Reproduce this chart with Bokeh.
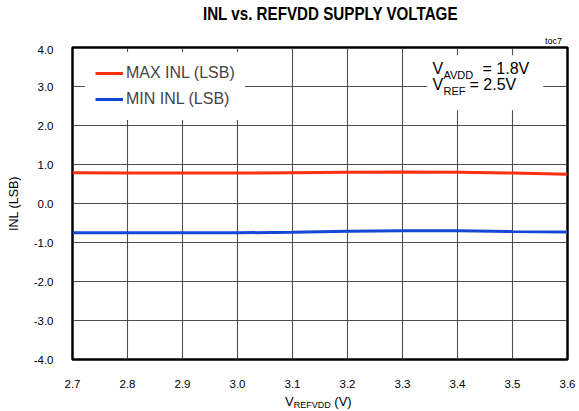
from bokeh.plotting import figure
from bokeh.layouts import column
from bokeh.models import (Label, BoxAnnotation, Legend, LegendItem, FixedTicker,
                          Range1d, PrintfTickFormatter, Div)
from bokeh.embed import file_html
from bokeh.resources import INLINE

# ---- data ----
voltage = [2.7, 2.8, 2.9, 3.0, 3.1, 3.2, 3.3, 3.4, 3.5, 3.6]
max_inl = [0.79, 0.78, 0.78, 0.78, 0.79, 0.80, 0.81, 0.80, 0.78, 0.75]
min_inl = [-0.75, -0.75, -0.75, -0.75, -0.74, -0.71, -0.70, -0.70, -0.72, -0.73]
x_ticks = [2.7, 2.8, 2.9, 3.0, 3.1, 3.2, 3.3, 3.4, 3.5, 3.6]
y_ticks = [-4, -3, -2, -1, 0, 1, 2, 3, 4]
series_names = ["MAX INL (LSB)", "MIN INL (LSB)"]
title_text = "INL vs. REFVDD SUPPLY VOLTAGE"
tag_text = "toc7"

FONT = "Liberation Sans"

# ---- title row (HTML) ----
title_div = Div(width=579, height=45, margin=0, text=(
    '<div style="position:relative;width:579px;height:45px;margin:0;padding:0;">'
    '<div style="position:absolute;left:0;top:3px;width:660px;text-align:center;'
    'line-height:22px;white-space:nowrap;">'
    '<span style="display:inline-block;transform:scaleX(0.82);font-family:\'Liberation Sans\';'
    'font-weight:bold;font-size:18.5px;color:black;">' + title_text + '</span></div>'
    '<div style="position:absolute;left:0;top:36px;width:562px;text-align:right;'
    'font-family:\'Liberation Sans\';font-size:9px;line-height:11px;color:black;">'
    + tag_text + '</div></div>'))

p = figure(width=579, height=345, x_range=Range1d(2.7, 3.6), y_range=Range1d(-4, 4),
           output_backend="svg", toolbar_location=None, title=None,
           min_border_left=72, min_border_right=12, min_border_top=2, min_border_bottom=30)

p.background_fill_color = "white"
p.border_fill_color = "white"
p.outline_line_color = "black"
p.outline_line_width = 2.5
p.outline_line_alpha = 1

for ax, ticks in ((p.xaxis, x_ticks), (p.yaxis, y_ticks)):
    ax.ticker = FixedTicker(ticks=ticks)
    ax.formatter = PrintfTickFormatter(format="%.1f")
    ax.axis_line_color = None
    ax.major_tick_line_color = None
    ax.minor_tick_line_color = None
    ax.major_label_text_font = FONT
    ax.major_label_text_font_size = "11.5px"
    ax.major_label_text_color = "black"
p.xaxis.major_label_standoff = 14
p.yaxis.major_label_standoff = 13
p.yaxis.axis_label = "INL (LSB)"
p.yaxis.axis_label_text_font = FONT
p.yaxis.axis_label_text_font_size = "12.5px"
p.yaxis.axis_label_text_font_style = "normal"
p.yaxis.axis_label_text_color = "black"
p.yaxis.axis_label_standoff = 10

p.xgrid.ticker = FixedTicker(ticks=x_ticks)
p.ygrid.ticker = FixedTicker(ticks=y_ticks)
for g in (p.xgrid, p.ygrid):
    g.grid_line_color = "#3c3c3c"
    g.grid_line_width = 1.1
    g.grid_line_alpha = 0.9

r_max = p.line(voltage, max_inl, line_color="#ff3010", line_width=3)
r_min = p.line(voltage, min_inl, line_color="#1447d4", line_width=3)

legend = Legend(items=[LegendItem(label=series_names[0], renderers=[r_max]),
                       LegendItem(label=series_names[1], renderers=[r_min])],
                location=(13, 239), padding=10, margin=0, spacing=4,
                glyph_width=28, glyph_height=20, label_height=22, label_standoff=3,
                label_text_font=FONT, label_text_font_size="16px",
                border_line_alpha=0, background_fill_color="white", background_fill_alpha=1)
p.add_layout(legend)

# white box behind the condition annotation
p.add_layout(BoxAnnotation(left=3.345, right=3.556, top=3.80, bottom=2.39,
                           fill_color="white", fill_alpha=1, line_alpha=0))

def lab(x, y, text, size):
    p.add_layout(Label(x=x, y=y, x_units="screen", y_units="screen", text=text,
                       text_font=FONT, text_font_size=size, text_color="black"))

lab(360, 283, "V", "16px")
lab(371, 279, "AVDD", "11px")
lab(410, 283, "= 1.8V", "16px")
lab(360, 267, "V", "16px")
lab(371, 263, "REF", "11px")
lab(397, 267, "= 2.5V", "16px")

# ---- x-axis title row (HTML, with subscript) ----
xlabel_div = Div(width=579, height=21, margin=0, text=(
    '<div style="position:relative;width:579px;height:21px;margin:0;padding:0;">'
    '<div style="position:absolute;left:285px;top:3.5px;white-space:nowrap;'
    'font-family:\'Liberation Sans\';font-size:13px;line-height:16px;color:black;">'
    'V<span style="font-size:9px;position:relative;top:2.5px;">REFVDD</span> (V)</div></div>'))

layout = column(title_div, p, xlabel_div, spacing=0)
open("out.html", "w").write(file_html(layout, INLINE))
